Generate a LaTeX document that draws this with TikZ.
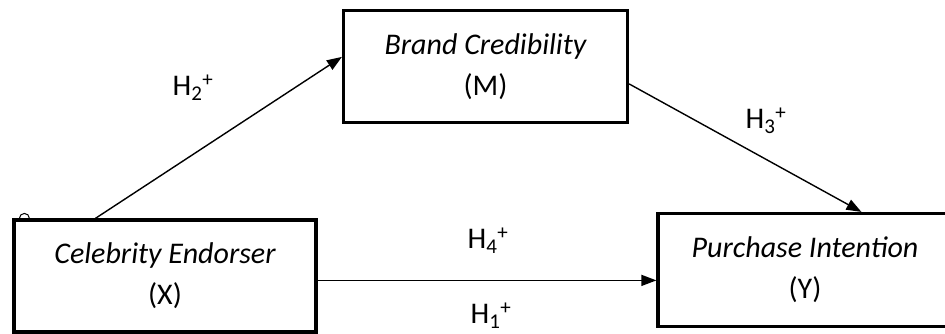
\documentclass[tikz,border=0pt]{standalone}
\usepackage{fontspec}
\setmainfont{Carlito}
\usetikzlibrary{arrows.meta,calc}
\begin{document}
\begin{tikzpicture}[x=1pt,y=-1pt,
  varbox/.style={draw,line width=3.2pt,inner sep=0pt,align=center,
    font=\fontsize{30}{41}\selectfont},
  hlabel/.style={inner sep=0pt,font=\fontsize{30}{36}\selectfont},
  arr/.style={line width=1.4pt,-{Triangle[length=15pt,width=11pt]}}]
\useasboundingbox (0,0) rectangle (945,334);
\node[varbox,minimum width=302pt,minimum height=112pt] (X) at (165,276)
  {\itshape Celebrity Endorser\\(X)};
\node[varbox,minimum width=284pt,minimum height=112pt] (M) at (485.5,66.5)
  {\itshape Brand Credibility\\(M)};
\node[varbox,minimum width=294pt,minimum height=113pt] (Y) at (805,270)
  {\itshape Purchase Intention\\(Y)};
\coordinate (a1) at ($(X.north west)+(83,0)$);
\coordinate (a2) at ($(M.north west)+(0,48)$);
\coordinate (b1) at ($(M.north east)+(0,75)$);
\coordinate (b2) at ($(Y.north west)+(205,0)$);
\coordinate (c1) at ($(X.north east)+(0,62)$);
\draw[arr] (a1) -- (a2);
\draw[arr] (b1) -- (b2);
\draw[arr] (c1) -- (Y.west |- c1);
\node[hlabel] (h2) at (193,88) {H\textsubscript{2}\textsuperscript{+}};
\node[hlabel] (h3) at (766,121) {H\textsubscript{3}\textsuperscript{+}};
\node[hlabel] (h4) at (488,241) {H\textsubscript{4}\textsuperscript{+}};
\node[hlabel] (h1) at (491,316) {H\textsubscript{1}\textsuperscript{+}};
\draw[line width=1pt] ($(X.north west)+(7,0)$) arc (180:360:5);
\end{tikzpicture}
\end{document}
